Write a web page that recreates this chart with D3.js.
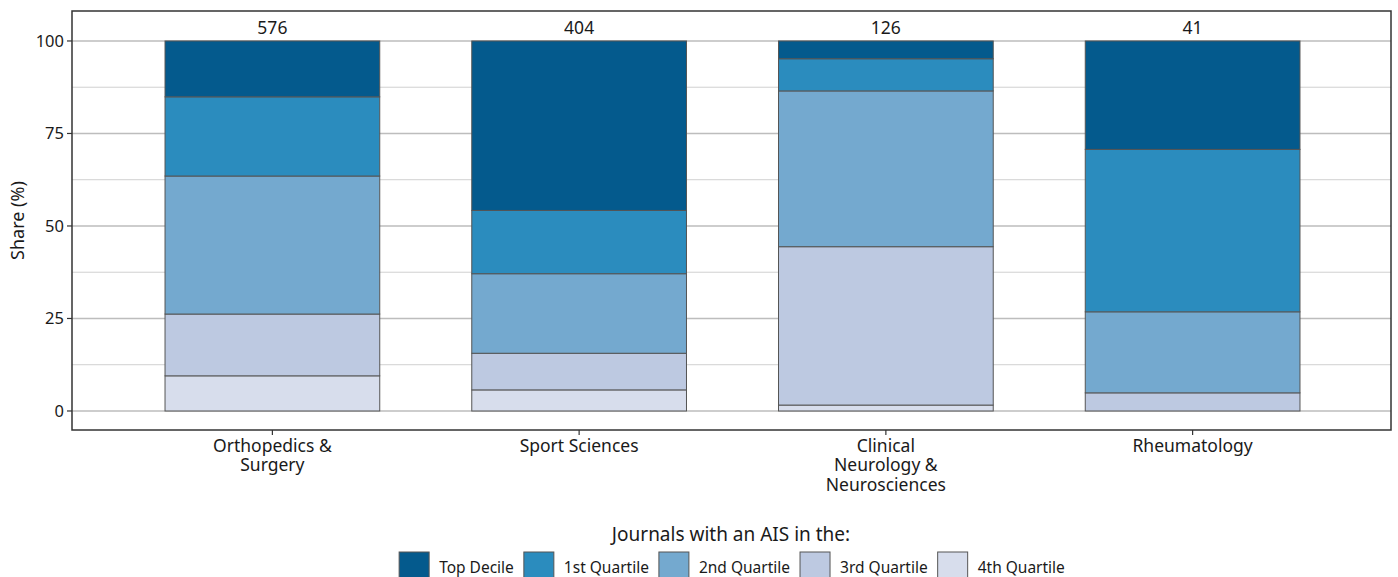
<!DOCTYPE html>
<html><head><meta charset="utf-8">
<script src="https://cdn.jsdelivr.net/npm/d3@7"></script>
<style>body{margin:0;background:#fff}svg{display:block}text{font-family:"Noto Sans",sans-serif;fill:#1a1a1a}</style>
</head><body><svg id="c" width="1398" height="577"></svg>
<script>
const categories = ["Orthopedics &\nSurgery", "Sport Sciences", "Clinical\nNeurology &\nNeurosciences", "Rheumatology"];
const totals = [576, 404, 126, 41];
const levels = ["Top Decile", "1st Quartile", "2nd Quartile", "3rd Quartile", "4th Quartile"];
const colors = ["#045a8d", "#2b8cbe", "#74a9cf", "#bdc9e1", "#d7ddec"];
// shares (%) per category, stacked bottom (4th) to top (Top Decile)
const q4 = [9.5, 5.7, 1.6, 0];
const q3 = [16.7, 9.9, 42.8, 4.9];
const q2 = [37.3, 21.5, 42.1, 21.9];
const q1 = [21.4, 17.1, 8.7, 43.9];
const topDecile = [15.1, 45.8, 4.8, 29.3];
const yTicks = [0, 25, 50, 75, 100];
const yMinor = [12.5, 37.5, 62.5, 87.5];

const svg = d3.select("#c");
const L = 72, R = 1391, T = 11, B = 430;
const x = d3.scaleBand().domain(categories).range([L + 1, R + 1]).paddingInner(0.3).paddingOuter(0.3);
const y = d3.scaleLinear().domain([-5.14, 108.1]).range([B, T]);

// grid
svg.append("g").selectAll("line").data(yMinor).join("line")
  .attr("x1", L).attr("x2", R).attr("y1", d => y(d)).attr("y2", d => y(d))
  .attr("stroke", "#d0d0d0").attr("stroke-width", 1);
svg.append("g").selectAll("line").data(yTicks).join("line")
  .attr("x1", L).attr("x2", R).attr("y1", d => y(d)).attr("y2", d => y(d))
  .attr("stroke", "#bdbdbd").attr("stroke-width", 1.6);

// stacked bars
const series = [q4, q3, q2, q1, topDecile];
const seriesColors = [colors[4], colors[3], colors[2], colors[1], colors[0]];
categories.forEach((c, i) => {
  let cum = 0;
  series.forEach((s, k) => {
    const v = s[i];
    if (v > 0) {
      svg.append("rect")
        .attr("x", x(c)).attr("width", x.bandwidth())
        .attr("y", y(cum + v)).attr("height", y(cum) - y(cum + v))
        .attr("fill", seriesColors[k]).attr("stroke", "#555").attr("stroke-width", 1);
    }
    cum += v;
  });
  svg.append("text").attr("x", x(c) + x.bandwidth() / 2).attr("y", 34)
    .attr("text-anchor", "middle").attr("font-size", 17.5).text(totals[i]);
});

// panel border
svg.append("rect").attr("x", L).attr("y", T).attr("width", R - L).attr("height", B - T)
  .attr("fill", "none").attr("stroke", "#333").attr("stroke-width", 1.5);

// y axis
const ya = svg.append("g");
yTicks.forEach(t => {
  ya.append("line").attr("x1", L - 5).attr("x2", L).attr("y1", y(t)).attr("y2", y(t)).attr("stroke", "#333").attr("stroke-width", 1.2);
  ya.append("text").attr("x", L - 8).attr("y", y(t)).attr("dy", "0.35em").attr("text-anchor", "end").attr("font-size", 16.5).text(t);
});
svg.append("text").attr("transform", `translate(24,${(T + B) / 2}) rotate(-90)`)
  .attr("text-anchor", "middle").attr("font-size", 18).text("Share (%)");

// x axis
categories.forEach(c => {
  const cx = x(c) + x.bandwidth() / 2;
  svg.append("line").attr("x1", cx).attr("x2", cx).attr("y1", B).attr("y2", B + 5).attr("stroke", "#333").attr("stroke-width", 1.2);
  const t = svg.append("text").attr("text-anchor", "middle").attr("font-size", 17.5);
  c.split("\n").forEach((ln, j) => {
    t.append("tspan").attr("x", cx).attr("y", 452 + j * 19.3).text(ln);
  });
});

// legend
svg.append("text").attr("x", 731).attr("y", 541).attr("text-anchor", "middle").attr("font-size", 19).text("Journals with an AIS in the:");
const lg = svg.append("g");
let cx = 0;
levels.forEach((lv, i) => {
  const g = lg.append("g").attr("transform", `translate(${cx},0)`);
  g.append("rect").attr("x", 0).attr("y", 552).attr("width", 30).attr("height", 30)
    .attr("fill", colors[i]).attr("stroke", "#555").attr("stroke-width", 1);
  const tx = g.append("text").attr("x", 40).attr("y", 573).attr("font-size", 15.5).text(lv);
  const w = tx.node().getComputedTextLength();
  cx += 40 + w + 10;
});
const totalW = cx - 10;
lg.attr("transform", `translate(${732 - totalW / 2},0)`);
</script></body></html>
